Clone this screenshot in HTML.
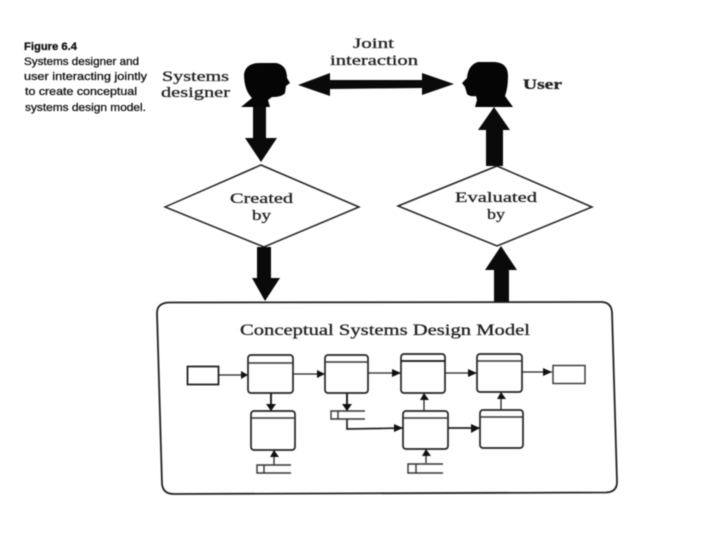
<!DOCTYPE html>
<html>
<head>
<meta charset="utf-8">
<style>
html,body{margin:0;padding:0;background:#fff;width:720px;height:540px;overflow:hidden}
svg{display:block;filter:blur(.55px)}
.s{font-family:"Liberation Serif",serif;fill:#222;stroke:#222;stroke-width:.3}
.c{font-family:"Liberation Sans",sans-serif;font-size:11px;fill:#111;stroke:#111;stroke-width:.3}
.b{fill:#fff;stroke:#222;stroke-width:1.7}
.h{stroke:#333;stroke-width:1.4;fill:none}
.l{stroke:#222;stroke-width:1.3;fill:none}
.o{stroke:#333;stroke-width:1.4;fill:#fff}
</style>
</head>
<body>
<svg width="720" height="540" viewBox="0 0 720 540" xmlns="http://www.w3.org/2000/svg">
<rect width="720" height="540" fill="#fff"/>

<!-- caption -->
<text class="c" x="24" y="50" textLength="53" lengthAdjust="spacingAndGlyphs" style="font-weight:bold">Figure 6.4</text>
<text class="c" x="24" y="65" textLength="115" lengthAdjust="spacingAndGlyphs">Systems designer and</text>
<text class="c" x="24" y="80" textLength="123" lengthAdjust="spacingAndGlyphs">user interacting jointly</text>
<text class="c" x="25" y="95" textLength="112" lengthAdjust="spacingAndGlyphs">to create conceptual</text>
<text class="c" x="25" y="111" textLength="121" lengthAdjust="spacingAndGlyphs">systems design model.</text>

<!-- top labels -->
<text class="s" x="162" y="81" font-size="15" textLength="67" lengthAdjust="spacingAndGlyphs">Systems</text>
<text class="s" x="161" y="97" font-size="15" textLength="69" lengthAdjust="spacingAndGlyphs">designer</text>
<text class="s" x="353" y="48" font-size="15" textLength="41" lengthAdjust="spacingAndGlyphs">Joint</text>
<text class="s" x="330" y="65" font-size="15" textLength="88" lengthAdjust="spacingAndGlyphs">interaction</text>
<text class="s" x="523" y="89" font-size="15" font-weight="bold" textLength="39" lengthAdjust="spacingAndGlyphs">User</text>

<!-- left head (faces right) -->
<path d="M244 74 Q246 63 260 63 L276 63 Q287 65 287 78 L290 83 L286 86 L285 93 Q282 97 272 97 L268 100 L270 107 L241 107 L252 98 Q244 90 244 74 Z" fill="#050505"/>
<!-- right head (faces left) -->
<path d="M508 76 Q508 63 495 62 L478 62 Q468 65 467 78 L462 83 L465 87 L467 94 Q470 97 476 96 L477 100 L475 107 L513 107 L505 96 Q508 88 508 76 Z" fill="#050505"/>

<!-- double arrow -->
<path d="M298 85 L330 73 L330 80 L422 80 L422 73 L454 84 L422 95 L422 88 L330 89 L330 96 Z" fill="#0a0a0a"/>
<!-- down arrow 1 -->
<path d="M253 107 L266 107 L266 138 L277 138 L261 162 L245 138 L253 138 Z" fill="#0a0a0a"/>
<!-- down arrow 2 -->
<path d="M257 247 L271 247 L271 278 L280 278 L265 301 L252 278 L257 278 Z" fill="#0a0a0a"/>
<!-- up arrow 3 -->
<path d="M486 166 L503 166 L503 130 L510 130 L494 107 L478 130 L486 130 Z" fill="#0a0a0a"/>
<!-- up arrow 4 -->
<path d="M494 302 L509 302 L509 270 L517 270 L501 246 L485 270 L494 270 Z" fill="#0a0a0a"/>

<!-- diamonds -->
<polygon points="165,207 261,165 359,207 264,247" fill="#fff" stroke="#222" stroke-width="1.5"/>
<polygon points="398,206 497,166 592,207 497,246" fill="#fff" stroke="#222" stroke-width="1.5"/>
<path d="M486 166 L503 166 L503 160 L486 160 Z" fill="#0a0a0a"/>
<text class="s" x="230" y="203" font-size="15" textLength="63" lengthAdjust="spacingAndGlyphs">Created</text>
<text class="s" x="252" y="220" font-size="15" textLength="19" lengthAdjust="spacingAndGlyphs">by</text>
<text class="s" x="455" y="202" font-size="15" textLength="82" lengthAdjust="spacingAndGlyphs">Evaluated</text>
<text class="s" x="487" y="219" font-size="15" textLength="18" lengthAdjust="spacingAndGlyphs">by</text>

<!-- main box -->
<path d="M169 302.5 L601 302 Q611 302 612 312 L617 482 Q617 492 606 492.5 L174 494 Q163 494 162 484 L157 313 Q157 303 169 302.5 Z" fill="#fff" stroke="#222" stroke-width="1.8"/>
<text class="s" x="240" y="335" font-size="15.5" textLength="290" lengthAdjust="spacingAndGlyphs">Conceptual Systems Design Model</text>

<!-- connectors -->
<path class="l" d="M219 375 L248 375"/><path d="M241 371 L248 375 L241 379 Z" fill="#111"/>
<path class="l" d="M293 374 L325 374"/><path d="M317 370 L325 374 L317 378 Z" fill="#111"/>
<path class="l" d="M368 373 L401 373"/><path d="M392 369 L401 373 L392 377 Z" fill="#111"/>
<path class="l" d="M445 373 L477 373"/><path d="M468 369 L477 373 L468 377 Z" fill="#111"/>
<path class="l" d="M522 372 L552 372"/><path d="M543 368 L552 372 L543 376 Z" fill="#111"/>
<path class="l" d="M271 393 L271 411" style="stroke-width:2"/><path d="M266 404 L276 404 L271 411 Z" fill="#111"/>
<path class="l" d="M347 393 L347 411" style="stroke-width:2"/><path d="M342 404 L352 404 L347 411 Z" fill="#111"/>
<path class="l" d="M347 419 L347 429 L403 428" style="stroke-width:1.7"/><path d="M394 424 L403 428 L394 432 Z" fill="#111"/>
<path class="l" d="M448 428 L480 428" style="stroke-width:1.7"/><path d="M471 424 L480 428 L471 433 Z" fill="#111"/>
<path class="l" d="M424 411 L424 393"/><path d="M420 400 L429 400 L424 393 Z" fill="#111"/>
<path class="l" d="M501 410 L501 392"/><path d="M497 399 L506 399 L501 392 Z" fill="#111"/>
<path class="l" d="M274 465 L274 450"/><path d="M270 457 L279 457 L274 450 Z" fill="#111"/>
<path class="l" d="M426 463 L426 449"/><path d="M422 456 L431 456 L426 449 Z" fill="#111"/>

<!-- terminators -->
<rect x="187.5" y="366.5" width="31" height="18" fill="#fff" stroke="#222" stroke-width="1.8"/>
<rect x="553" y="365.5" width="32" height="18" fill="#fff" stroke="#333" stroke-width="1.4"/>

<!-- process boxes -->
<rect class="b" x="248" y="355" width="45" height="38" rx="3"/><path class="h" d="M248 363 H293"/>
<rect class="b" x="251" y="411" width="44" height="39" rx="3"/><path class="h" d="M251 418 H295"/>
<rect class="b" x="325" y="355" width="43" height="38" rx="3"/><path class="h" d="M325 362 H368"/>
<rect class="b" x="401" y="354" width="44" height="39" rx="3"/><path class="h" d="M401 361 H445" style="stroke:#111;stroke-width:1.7"/>
<rect class="b" x="477" y="354" width="45" height="38" rx="3"/><path class="h" d="M477 361 H522"/>
<rect class="b" x="403" y="411" width="45" height="38" rx="3"/><path class="h" d="M403 418 H448"/>
<rect class="b" x="480" y="410" width="43" height="38" rx="3"/><path class="h" d="M480 417 H523"/>

<!-- data stores -->
<path class="o" d="M365 411 H331 V419 H365"/><path class="h" d="M338 411 V419"/>
<path class="o" d="M291 465 H257 V473 H291"/><path class="h" d="M264 465 V473"/>
<path class="o" d="M443 464 H408 V473 H443"/><path class="h" d="M416 464 V473"/>
</svg>
</body>
</html>
